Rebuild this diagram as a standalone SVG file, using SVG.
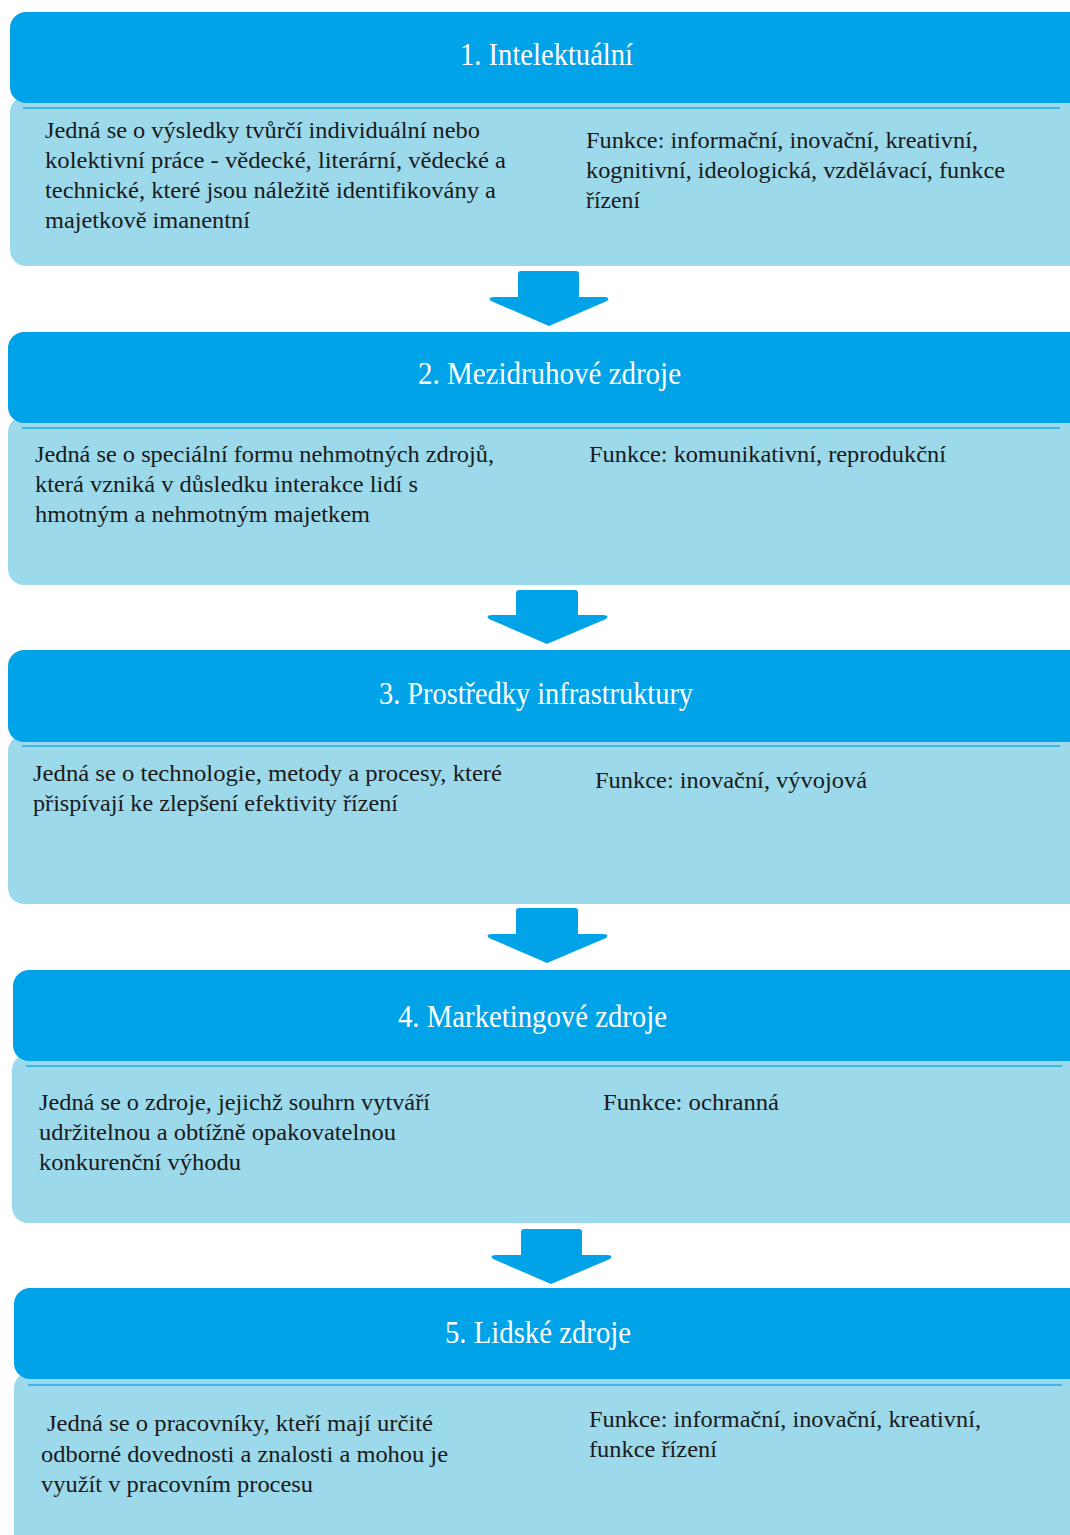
<svg xmlns="http://www.w3.org/2000/svg" width="1070" height="1535" viewBox="0 0 1070 1535">
<style>
.hdr{fill:#00A3E8}
.body{fill:#9CD9EA}
.sep{stroke:#3DB5EA;stroke-width:2;fill:none}
.arrow{fill:#00A3E8}
.ht{font-family:'Liberation Serif','Times New Roman','DejaVu Serif',serif;font-size:31px;fill:#FFFFFF}
.bt{font-family:'Liberation Serif','Times New Roman','DejaVu Serif',serif;font-size:24px;fill:#1A1A1A}
</style>
<rect x="0" y="0" width="1070" height="1535" fill="#FFFFFF"/>

<g id="connectors">
<path class="arrow" d="M518 274 Q518 271 521 271 H576 Q579 271 579 274 V297 H604 Q611 297 607 301 L549 326 L491 301 Q487 297 494 297 H518 Z"/>
<path class="arrow" d="M516 593 Q516 590 519 590 H575 Q578 590 578 593 V615 H603 Q610 615 606 619 L547 644 L489 619 Q485 615 492 615 H516 Z"/>
<path class="arrow" d="M516 911 Q516 908 519 908 H575 Q578 908 578 911 V934 H603 Q610 934 606 938 L547 963 L489 938 Q485 934 492 934 H516 Z"/>
<path class="arrow" d="M521 1232 Q521 1229 524 1229 H579 Q582 1229 582 1232 V1255 H607 Q614 1255 610 1259 L551 1284 L493 1259 Q489 1255 496 1255 H521 Z"/>
</g>

<g id="node1">
<rect class="body" x="10" y="96" width="1075" height="170" rx="16"/>
<rect class="hdr" x="10" y="12" width="1075" height="91" rx="16"/>
<line class="sep" x1="23" y1="108" x2="1060" y2="108"/>
<text class="ht" font-family="Liberation Serif, serif" x="460" y="65" textLength="173" lengthAdjust="spacingAndGlyphs">1. Intelektuální</text>
<text class="bt" font-family="Liberation Serif, serif" x="45" y="138" textLength="435" lengthAdjust="spacingAndGlyphs">Jedná se o výsledky tvůrčí individuální nebo</text>
<text class="bt" font-family="Liberation Serif, serif" x="45" y="168" textLength="461" lengthAdjust="spacingAndGlyphs">kolektivní práce - vědecké, literární, vědecké a</text>
<text class="bt" font-family="Liberation Serif, serif" x="45" y="198" textLength="451" lengthAdjust="spacingAndGlyphs">technické, které jsou náležitě identifikovány a</text>
<text class="bt" font-family="Liberation Serif, serif" x="45" y="228" textLength="205" lengthAdjust="spacingAndGlyphs">majetkově imanentní</text>
<text class="bt" font-family="Liberation Serif, serif" x="586" y="148" textLength="392" lengthAdjust="spacingAndGlyphs">Funkce: informační, inovační, kreativní,</text>
<text class="bt" font-family="Liberation Serif, serif" x="586" y="178" textLength="419" lengthAdjust="spacingAndGlyphs">kognitivní, ideologická, vzdělávací, funkce</text>
<text class="bt" font-family="Liberation Serif, serif" x="586" y="208" textLength="54" lengthAdjust="spacingAndGlyphs">řízení</text>
</g>

<g id="node2">
<rect class="body" x="8" y="416" width="1077" height="169" rx="16"/>
<rect class="hdr" x="8" y="332" width="1077" height="91" rx="16"/>
<line class="sep" x1="22" y1="428" x2="1060" y2="428"/>
<text class="ht" x="418" y="384" textLength="263" lengthAdjust="spacingAndGlyphs">2. Mezidruhové zdroje</text>
<text class="bt" x="35" y="462" textLength="459" lengthAdjust="spacingAndGlyphs">Jedná se o speciální formu nehmotných zdrojů,</text>
<text class="bt" x="35" y="492" textLength="383" lengthAdjust="spacingAndGlyphs">která vzniká v důsledku interakce lidí s</text>
<text class="bt" x="35" y="522" textLength="335" lengthAdjust="spacingAndGlyphs">hmotným a nehmotným majetkem</text>
<text class="bt" x="589" y="462" textLength="357" lengthAdjust="spacingAndGlyphs">Funkce: komunikativní, reprodukční</text>
</g>

<g id="node3">
<rect class="body" x="8" y="735" width="1077" height="169" rx="16"/>
<rect class="hdr" x="8" y="650" width="1077" height="92" rx="16"/>
<line class="sep" x1="22" y1="746" x2="1060" y2="746"/>
<text class="ht" x="379" y="704" textLength="314" lengthAdjust="spacingAndGlyphs">3. Prostředky infrastruktury</text>
<text class="bt" x="33" y="781" textLength="469" lengthAdjust="spacingAndGlyphs">Jedná se o technologie, metody a procesy, které</text>
<text class="bt" x="33" y="811" textLength="365" lengthAdjust="spacingAndGlyphs">přispívají ke zlepšení efektivity řízení</text>
<text class="bt" x="595" y="788" textLength="272" lengthAdjust="spacingAndGlyphs">Funkce: inovační, vývojová</text>
</g>

<g id="node4">
<rect class="body" x="12" y="1054" width="1073" height="169" rx="16"/>
<rect class="hdr" x="13" y="970" width="1072" height="91" rx="16"/>
<line class="sep" x1="26" y1="1066" x2="1062" y2="1066"/>
<text class="ht" x="398" y="1027" textLength="269" lengthAdjust="spacingAndGlyphs">4. Marketingové zdroje</text>
<text class="bt" x="39" y="1110" textLength="391" lengthAdjust="spacingAndGlyphs">Jedná se o zdroje, jejichž souhrn vytváří</text>
<text class="bt" x="39" y="1140" textLength="357" lengthAdjust="spacingAndGlyphs">udržitelnou a obtížně opakovatelnou</text>
<text class="bt" x="39" y="1170" textLength="202" lengthAdjust="spacingAndGlyphs">konkurenční výhodu</text>
<text class="bt" x="603" y="1110" textLength="176" lengthAdjust="spacingAndGlyphs">Funkce: ochranná</text>
</g>

<g id="node5">
<rect class="body" x="14" y="1372" width="1071" height="180" rx="16"/>
<rect class="hdr" x="14" y="1288" width="1071" height="91" rx="16"/>
<line class="sep" x1="28" y1="1385" x2="1062" y2="1385"/>
<text class="ht" x="445" y="1343" textLength="186" lengthAdjust="spacingAndGlyphs">5. Lidské zdroje</text>
<text class="bt" x="47" y="1431" textLength="386" lengthAdjust="spacingAndGlyphs">Jedná se o pracovníky, kteří mají určité</text>
<text class="bt" x="41" y="1462" textLength="407" lengthAdjust="spacingAndGlyphs">odborné dovednosti a znalosti a mohou je</text>
<text class="bt" x="41" y="1492" textLength="272" lengthAdjust="spacingAndGlyphs">využít v pracovním procesu</text>
<text class="bt" x="589" y="1427" textLength="392" lengthAdjust="spacingAndGlyphs">Funkce: informační, inovační, kreativní,</text>
<text class="bt" x="589" y="1457" textLength="128" lengthAdjust="spacingAndGlyphs">funkce řízení</text>
</g>
</svg>
